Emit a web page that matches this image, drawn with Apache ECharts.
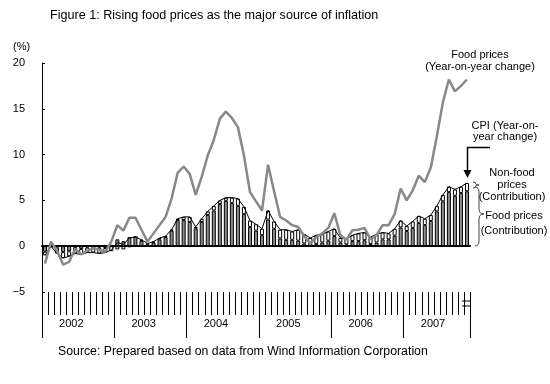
<!DOCTYPE html>
<html>
<head>
<meta charset="utf-8">
<script src="https://cdn.jsdelivr.net/npm/echarts@6/dist/echarts.min.js"></script>
<style>html,body{margin:0;padding:0;background:#fff}#c{width:550px;height:384px}</style>
</head>
<body>
<div id="c"></div>
<script>
// ---- data ----
const years = ['2002', '2003', '2004', '2005', '2006', '2007'];
const monthsPerYear = [12, 12, 12, 12, 12, 11];
// Food prices, year-on-year change (%)
const foodYoY = [
  -1.9, 0.5, -0.5, -2.0, -1.7, -0.3, -0.9, -0.5, -0.2, -0.4, -0.6, 0.5,
  2.3, 1.7, 3.1, 3.1, 1.8, 0.5, 1.4, 2.3, 3.2, 5.2, 8.0, 8.7,
  7.9, 5.6, 7.6, 9.9, 11.6, 13.9, 14.7, 14.0, 13.0, 9.9, 5.9, 4.9,
  3.9, 8.9, 6.0, 3.2, 2.8, 2.3, 2.1, 1.1, 0.3, 1.0, 1.4, 2.0,
  3.6, 1.2, 0.7, 1.75, 1.8, 2.0, 0.75, 1.2, 2.3, 2.3, 3.5, 6.3,
  5.0, 6.1, 7.7, 7.0, 8.6, 12.0, 15.7, 18.2, 16.9, 17.5, 18.2
];
// CPI, year-on-year change (%)
const cpiYoY = [
  -1.0, 0.0, -0.8, -1.3, -1.1, -0.8, -0.9, -0.7, -0.7, -0.8, -0.7, -0.4,
  0.4, 0.2, 0.9, 1.0, 0.7, 0.3, 0.5, 0.9, 1.1, 1.8, 3.0, 3.2,
  3.2, 2.1, 3.0, 3.8, 4.4, 5.0, 5.3, 5.3, 5.2, 4.3, 2.8, 2.4,
  1.9, 3.9, 2.7, 1.8, 1.8, 1.6, 1.8, 1.3, 0.9, 1.2, 1.3, 1.6,
  1.9, 0.9, 0.8, 1.2, 1.4, 1.5, 1.0, 1.3, 1.5, 1.4, 1.9, 2.8,
  2.2, 2.7, 3.3, 3.0, 3.4, 4.4, 5.6, 6.5, 6.2, 6.5, 6.9
];
// Food prices, contribution (% points)
const foodContrib = [
  -0.6, 0.15, -0.15, -0.65, -0.55, -0.1, -0.3, -0.15, -0.05, -0.15, -0.2, 0.15,
  0.75, 0.55, 1.0, 1.0, 0.6, 0.15, 0.4, 0.75, 1.0, 1.7, 2.85, 2.85,
  2.65, 1.95, 2.65, 3.4, 3.9, 4.6, 4.95, 4.7, 4.4, 3.5, 2.1, 1.7,
  1.2, 2.9, 1.9, 0.85, 0.7, 0.7, 0.6, 0.3, 0.05, 0.25, 0.4, 0.6,
  1.1, 0.4, 0.2, 0.55, 0.55, 0.65, 0.25, 0.4, 0.75, 0.75, 1.15, 2.05,
  1.65, 2.0, 2.55, 2.3, 2.75, 3.8, 4.9, 5.9, 5.5, 5.8, 6.0
];
// Non-food prices, contribution (% points)
const nonFoodContrib = [
  -0.4, -0.15, -0.65, -0.65, -0.55, -0.7, -0.6, -0.55, -0.65, -0.65, -0.5, -0.55,
  -0.35, -0.35, -0.1, 0.0, 0.1, 0.15, 0.1, 0.15, 0.1, 0.1, 0.15, 0.35,
  0.55, 0.15, 0.35, 0.4, 0.5, 0.4, 0.35, 0.6, 0.8, 0.8, 0.7, 0.7,
  0.7, 1.0, 0.8, 0.95, 1.1, 0.9, 1.2, 1.0, 0.85, 0.95, 0.9, 1.0,
  0.8, 0.5, 0.6, 0.65, 0.85, 0.85, 0.75, 0.9, 0.75, 0.65, 0.75, 0.75,
  0.55, 0.7, 0.75, 0.7, 0.65, 0.6, 0.7, 0.6, 0.7, 0.7, 0.9
];
const yTicks = { min: -5, max: 20, interval: 5 };

// category labels (one per month)
const categories = [];
years.forEach((y, i) => { for (let m = 1; m <= monthsPerYear[i]; m++) categories.push(y + '-' + m); });

// ---- layout ----
const FONT = '"Liberation Sans", Arial, sans-serif';
const G = { left: 42, right: 80, top: 63, bottom: 92 };
const grids = [0, 1, 2].map(() => ({ left: G.left, right: G.right, top: G.top, bottom: G.bottom }));
const hiddenY = (gi) => ({ type: 'value', gridIndex: gi, min: yTicks.min, max: yTicks.max, interval: yTicks.interval, show: false });
const ln = (x1, y1, x2, y2, w, c) => ({ type: 'line', shape: { x1, y1, x2, y2 }, style: { stroke: c || '#000', lineWidth: w || 1 } });
const bz = (x1, y1, cx, cy, x2, y2) => ({ type: 'bezierCurve', shape: { x1, y1, x2, y2, cpx1: cx, cpy1: cy }, style: { stroke: '#444', lineWidth: 1, fill: null } });

const chart = echarts.init(document.getElementById('c'), null, { renderer: 'canvas' });
chart.setOption({
  animation: false,
  backgroundColor: '#fff',
  textStyle: { fontFamily: FONT },
  grid: grids,
  xAxis: [
    { // zero line
      type: 'category', gridIndex: 0, data: categories, boundaryGap: true,
      axisLine: { onZero: true, lineStyle: { color: '#000', width: 2 } },
      axisTick: { show: false }, axisLabel: { show: false }, splitLine: { show: false }
    },
    { // month ticks
      type: 'category', gridIndex: 1, data: categories, position: 'bottom', boundaryGap: true,
      axisLine: { show: false, onZero: false },
      axisTick: { show: true, interval: 0, length: 23, lineStyle: { color: '#000', width: 1 } },
      axisLabel: { show: false }, splitLine: { show: false }
    },
    { // year separators and labels
      type: 'category', gridIndex: 2, data: categories, position: 'bottom', boundaryGap: true,
      axisLine: { show: false, onZero: false },
      axisTick: { show: true, interval: (i) => i % 12 === 0, length: 46, lineStyle: { color: '#000', width: 1 } },
      axisLabel: {
        show: true, interval: (i) => i % 12 === 2, margin: 26, align: 'left', padding: [0, 0, 0, 2],
        color: '#000', fontSize: 11, fontFamily: FONT,
        formatter: (v) => v.split('-')[0]
      },
      splitLine: { show: false }
    }
  ],
  yAxis: [
    {
      type: 'value', gridIndex: 0, min: yTicks.min, max: yTicks.max, interval: yTicks.interval,
      axisLine: { show: true, onZero: false, lineStyle: { color: '#000', width: 1 } },
      axisTick: { show: true, inside: true, length: 3, lineStyle: { color: '#000' } },
      axisLabel: {
        color: '#000', fontSize: 11, fontFamily: FONT, margin: 17,
        formatter: (v) => (v < 0 ? '\u2212' + Math.abs(v) : String(v))
      },
      splitLine: { show: false }
    },
    hiddenY(1), hiddenY(2)
  ],
  series: [
    {
      name: 'Food prices (Contribution)', type: 'bar', stack: 'cpi', xAxisIndex: 0, yAxisIndex: 0,
      data: foodContrib, barWidth: 4,
      itemStyle: { color: '#8c8c8c', borderColor: '#000', borderWidth: 1 }
    },
    {
      name: 'Non-food prices (Contribution)', type: 'bar', stack: 'cpi', xAxisIndex: 0, yAxisIndex: 0,
      data: nonFoodContrib, barWidth: 4,
      itemStyle: { color: '#fff', borderColor: '#000', borderWidth: 1 }
    },
    {
      name: 'CPI (Year-on-year change)', type: 'line', xAxisIndex: 0, yAxisIndex: 0,
      data: cpiYoY, symbol: 'none', z: 4,
      lineStyle: { color: '#000', width: 1 }
    },
    {
      name: 'Food prices (Year-on-year change)', type: 'line', xAxisIndex: 0, yAxisIndex: 0,
      data: foodYoY, symbol: 'none', z: 5,
      lineStyle: { color: '#888', width: 2.5 }
    }
  ],
  graphic: [
    { type: 'text', x: 50, y: 9, style: { text: 'Figure 1: Rising food prices as the major source of inflation', fill: '#000', font: '12.6px ' + FONT } },
    { type: 'text', x: 13, y: 41, style: { text: '(%)', fill: '#000', font: '11px ' + FONT } },
    { type: 'text', x: 58, y: 346, style: { text: 'Source: Prepared based on data from Wind Information Corporation', fill: '#000', font: '12.3px ' + FONT } },
    { type: 'text', x: 480, y: 49, style: { text: 'Food prices\n(Year-on-year change)', align: 'center', fill: '#000', font: '11px ' + FONT, lineHeight: 12 } },
    { type: 'text', x: 505, y: 120, style: { text: 'CPI (Year-on-\nyear change)', align: 'center', fill: '#000', font: '11px ' + FONT, lineHeight: 11 } },
    { type: 'text', x: 512, y: 167, style: { text: 'Non-food\nprices\n(Contribution)', align: 'center', fill: '#000', font: '11px ' + FONT, lineHeight: 12 } },
    { type: 'text', x: 514, y: 208, style: { text: 'Food prices\n(Contribution)', align: 'center', fill: '#000', font: '11px ' + FONT, lineHeight: 15 } },
    { type: 'polyline', shape: { points: [[490, 147.5], [467.5, 147.5], [467.5, 170]] }, style: { stroke: '#000', lineWidth: 1.5, fill: null } },
    { type: 'polygon', shape: { points: [[463.5, 170], [471.5, 170], [467.5, 178]] }, style: { fill: '#000' } },
    bz(473, 182, 476, 182, 476, 184.5), bz(476, 184.5, 476, 185, 479, 185), bz(479, 185, 476, 185, 476, 185.5), bz(476, 185.5, 476, 188, 473, 188),
    bz(475, 187, 479, 187, 479, 192), ln(479, 192, 479, 209, 1, '#444'), bz(479, 209, 479, 214, 484, 214),
    bz(484, 214, 479, 214, 479, 219), ln(479, 219, 479, 241, 1, '#444'), bz(479, 241, 479, 246, 475, 246),
    ln(462, 301, 470, 301), ln(462, 306, 470, 306)
  ]
});
</script>
</body>
</html>
